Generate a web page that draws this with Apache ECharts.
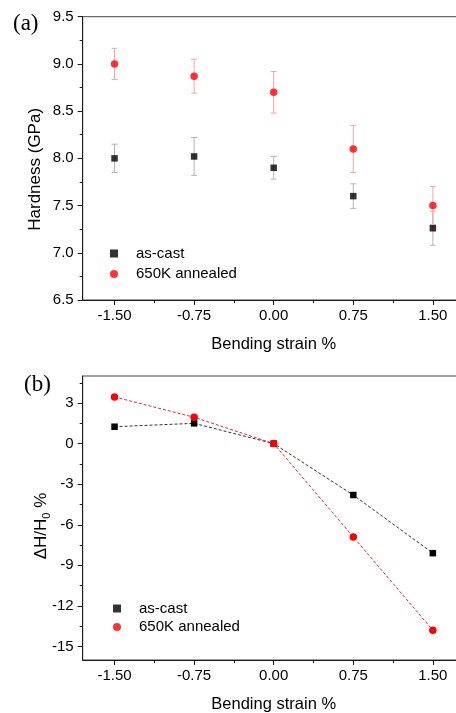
<!DOCTYPE html>
<html><head><meta charset="utf-8">
<script src="https://cdn.jsdelivr.net/npm/echarts@6/dist/echarts.min.js"></script>
<style>html,body{margin:0;padding:0;background:#fff}#c{width:456px;height:713px}</style>
</head><body><div id="c"></div>
<script>
// ---- data ----
const strain = [-1.5, -0.75, 0, 0.75, 1.5];
const hardCast = [8.00, 8.02, 7.90, 7.60, 7.26];
const hardCastErr = [0.15, 0.20, 0.12, 0.13, 0.18];
const hardAnn = [9.00, 8.87, 8.70, 8.10, 7.50];
const hardAnnErr = [0.165, 0.18, 0.22, 0.25, 0.20];
const dCast = [1.25, 1.5, 0, -3.8, -8.1];
const dAnn = [3.45, 1.95, 0, -6.9, -13.8];
const xTicks = [-1.5, -0.75, 0, 0.75, 1.5];
const xMinorTicks = [-1.125, -0.375, 0.375, 1.125];
const bTicks = [-15, -12, -9, -6, -3, 0, 3];
const bMinorTicks = [-13.5, -10.5, -7.5, -4.5, -1.5, 1.5, 4.5];
const seriesNames = ['as-cast', '650K annealed'];

const FONT = '"Liberation Sans", Arial, sans-serif';
const AX = '#1a1a1a';
const chart = echarts.init(document.getElementById('c'), null, {renderer: 'canvas'});

function pairs(xs, ys) { return xs.map((x, i) => [x, ys[i]]); }
function errData(xs, ys, es) { return xs.map((x, i) => [x, ys[i] - es[i], ys[i] + es[i]]); }
function errSeries(data, color) {
  return {
    type: 'custom', xAxisIndex: 0, yAxisIndex: 0, z: 1, silent: true,
    data: data,
    renderItem: function (params, api) {
      const x = api.value(0), lo = api.value(1), hi = api.value(2);
      const p1 = api.coord([x, hi]), p2 = api.coord([x, lo]);
      const cap = 3, st = {stroke: color, lineWidth: 1};
      return {type: 'group', children: [
        {type: 'line', shape: {x1: p1[0], y1: p1[1], x2: p2[0], y2: p2[1]}, style: st},
        {type: 'line', shape: {x1: p1[0] - cap, y1: p1[1], x2: p1[0] + cap, y2: p1[1]}, style: st},
        {type: 'line', shape: {x1: p2[0] - cap, y1: p2[1], x2: p2[0] + cap, y2: p2[1]}, style: st}
      ]};
    }
  };
}

const gridW = 382;
const xBase = (gi, withName) => ({
  type: 'value', gridIndex: gi, min: -1.8, max: 1.8,
  name: withName ? 'Bending strain %' : '', nameLocation: 'middle', nameGap: 36,
  nameMoveOverlap: false,
  nameTextStyle: {fontFamily: FONT, fontSize: 16.5, color: '#000'},
  axisLine: {show: true, onZero: false, lineStyle: {color: AX, width: 1}},
  splitLine: {show: false},
  axisTick: {show: true, inside: false, length: 5, lineStyle: {color: AX}, customValues: xTicks},
  axisLabel: {show: true, margin: 8, fontFamily: FONT, fontSize: 15, color: '#000',
    customValues: xTicks, formatter: v => v.toFixed(2)}
});
const xMinor = (gi) => ({
  type: 'value', gridIndex: gi, min: -1.8, max: 1.8, position: 'bottom',
  axisLine: {show: false, onZero: false}, splitLine: {show: false}, axisLabel: {show: false},
  axisTick: {show: true, inside: false, length: 3, lineStyle: {color: AX}, customValues: xMinorTicks}
});

const gridCommon = {show: true, borderColor: '#444', borderWidth: 1, backgroundColor: 'transparent',
  containLabel: false, outerBoundsMode: 'none'};

const option = {
  animation: false,
  backgroundColor: '#fff',
  grid: [
    Object.assign({left: 82.7, top: 16.7, width: gridW, height: 283.3}, gridCommon),
    Object.assign({left: 82.7, top: 376, width: gridW, height: 284}, gridCommon)
  ],
  xAxis: [xBase(0, true), xBase(1, true), xMinor(0), xMinor(1)],
  yAxis: [
    {
      type: 'value', gridIndex: 0, min: 6.5, max: 9.5, interval: 0.5,
      name: 'Hardness (GPa)', nameLocation: 'middle', nameGap: 39, nameMoveOverlap: false,
      nameTextStyle: {fontFamily: FONT, fontSize: 17, color: '#000', padding: [0, 22, 0, 0]},
      axisLine: {show: true, onZero: false, lineStyle: {color: AX}},
      splitLine: {show: false},
      axisTick: {show: true, inside: false, length: 5, lineStyle: {color: AX}},
      minorTick: {show: true, splitNumber: 2, length: 3, lineStyle: {color: AX}},
      axisLabel: {margin: 9, fontFamily: FONT, fontSize: 15, color: '#000', formatter: v => v.toFixed(1)}
    },
    {
      type: 'value', gridIndex: 1, min: -16, max: 5,
      name: '{a|ΔH/H}{s|0}{a| %}', nameLocation: 'middle', nameGap: 30, nameMoveOverlap: false,
      nameTextStyle: {fontFamily: FONT, fontSize: 17, color: '#000', padding: [0, 16, 0, 0],
        rich: {a: {fontFamily: FONT, fontSize: 17, color: '#000', lineHeight: 22},
               s: {fontFamily: FONT, fontSize: 11, color: '#000', lineHeight: 22, verticalAlign: 'bottom', padding: [10, 0, 0, 0]}}},
      axisLine: {show: true, onZero: false, lineStyle: {color: AX}},
      splitLine: {show: false},
      axisTick: {show: true, inside: false, length: 5, lineStyle: {color: AX}, customValues: bTicks},
      axisLabel: {margin: 9, fontFamily: FONT, fontSize: 15, color: '#000', customValues: bTicks, formatter: v => String(v)}
    },
    {
      type: 'value', gridIndex: 1, min: -16, max: 5, position: 'left',
      axisLine: {show: false, onZero: false}, splitLine: {show: false}, axisLabel: {show: false},
      axisTick: {show: true, inside: false, length: 3, lineStyle: {color: AX}, customValues: bMinorTicks}
    }
  ],
  legend: [
    {
      left: 105, top: 241, orient: 'vertical', itemGap: 5.5, itemWidth: 8, itemHeight: 8,
      selectedMode: false,
      textStyle: {fontFamily: FONT, fontSize: 15, color: '#000', padding: [0, 0, 0, 13]},
      data: [
        {name: seriesNames[0], icon: 'rect', itemStyle: {color: '#000'}},
        {name: seriesNames[1], icon: 'circle', itemStyle: {color: '#ff0000'}}
      ]
    },
    {
      left: 108, top: 596, orient: 'vertical', itemGap: 3.5, itemWidth: 8, itemHeight: 8,
      selectedMode: false,
      textStyle: {fontFamily: FONT, fontSize: 15, color: '#000', padding: [0, 0, 0, 13]},
      data: [
        {name: seriesNames[0], icon: 'rect', itemStyle: {color: '#000'}},
        {name: seriesNames[1], icon: 'circle', itemStyle: {color: '#ff0000'}}
      ]
    }
  ],
  graphic: [
    {type: 'text', left: 13, top: 12, style: {text: '(a)', font: '23px "Liberation Serif", "Times New Roman", serif', fill: '#000'}},
    {type: 'text', left: 24, top: 373, style: {text: '(b)', font: '23px "Liberation Serif", "Times New Roman", serif', fill: '#000'}}
  ],
  series: [
    errSeries(errData(strain, hardCast, hardCastErr), '#b4b4b4'),
    errSeries(errData(strain, hardAnn, hardAnnErr), '#f4a6a6'),
    {name: seriesNames[0], type: 'scatter', xAxisIndex: 0, yAxisIndex: 0, z: 3,
     symbol: 'rect', symbolSize: 6.5, itemStyle: {color: '#000'}, data: pairs(strain, hardCast)},
    {name: seriesNames[1], type: 'scatter', xAxisIndex: 0, yAxisIndex: 0, z: 3,
     symbol: 'circle', symbolSize: 7.5, itemStyle: {color: '#ff0000'}, data: pairs(strain, hardAnn)},
    {name: seriesNames[0], type: 'line', xAxisIndex: 1, yAxisIndex: 1, z: 3,
     symbol: 'rect', symbolSize: 6.5, itemStyle: {color: '#000'},
     lineStyle: {color: '#333', width: 1, type: [3, 2]}, data: pairs(strain, dCast)},
    {name: seriesNames[1], type: 'line', xAxisIndex: 1, yAxisIndex: 1, z: 4,
     symbol: 'circle', symbolSize: 7.5, itemStyle: {color: '#ff0000'},
     lineStyle: {color: '#ee2222', width: 1, type: [3, 2]}, data: pairs(strain, dAnn)}
  ]
};
chart.setOption(option);
</script></body></html>
